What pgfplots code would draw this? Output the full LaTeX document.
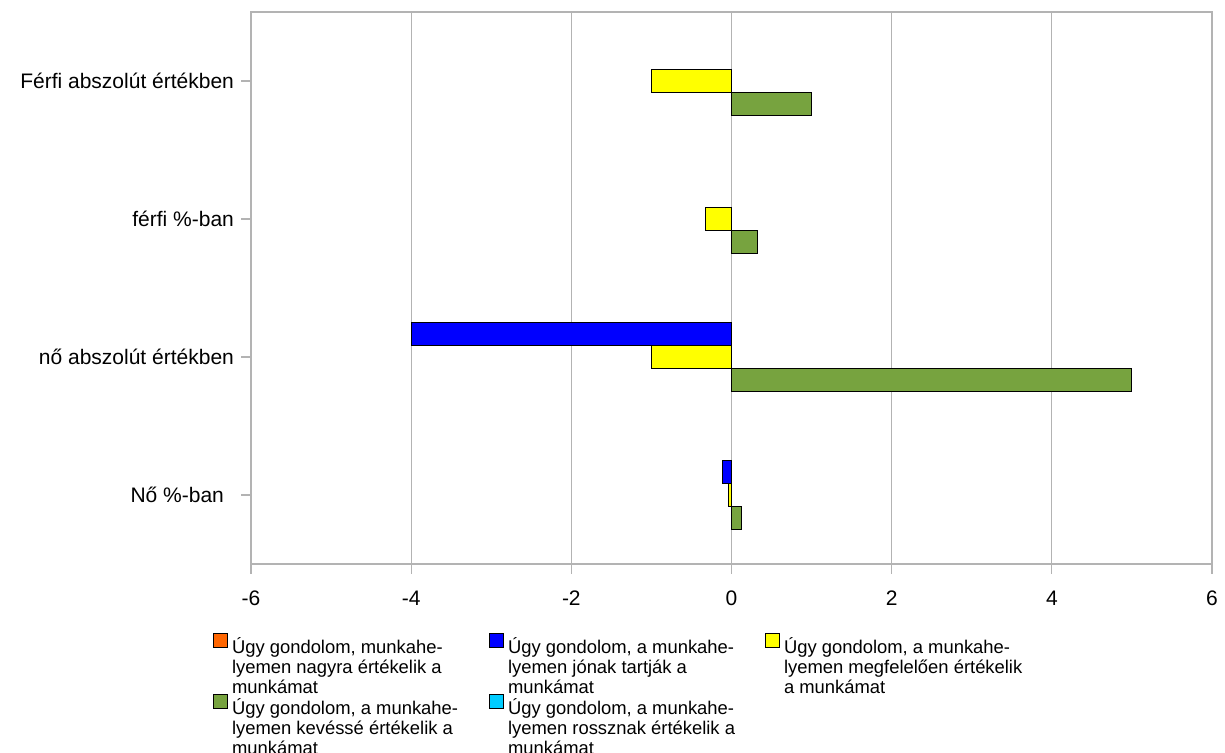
\documentclass[border=0pt]{standalone}
\usepackage{fontspec}
\setmainfont{Liberation Sans}
\usepackage{pgfplots}
\pgfplotsset{compat=1.18}
\definecolor{cOrange}{HTML}{FF6600}
\definecolor{cBlue}{HTML}{0000FF}
\definecolor{cYellow}{HTML}{FFFF00}
\definecolor{cGreen}{HTML}{77A33F}
\definecolor{cCyan}{HTML}{00CCFF}
\definecolor{cGrid}{HTML}{B3B3B3}
\newcommand{\LE}[3]{\makebox[126.5pt][l]{\begin{tabular}[t]{@{}l@{}}#1\\#2\\#3\end{tabular}}}
\begin{document}
\begin{tikzpicture}
\useasboundingbox (0,0) rectangle (612.5pt,376.5pt);
\begin{axis}[
  at={(125.5pt,94.5pt)}, anchor=south west,
  scale only axis, width=480.5pt, height=276pt,
  xmin=-6, xmax=6, ymin=-0.5, ymax=3.5,
  xtick={-6,-4,-2,0,2,4,6},
  ytick={0,1,2,3},
  yticklabels={Nő \%-ban\hspace*{5pt},nő abszolút értékben,férfi \%-ban,Férfi abszolút értékben},
  xmajorgrids, grid style={cGrid, line width=0.6pt},
  axis line style={cGrid, line width=0.6pt},
  tick style={cGrid, line width=0.6pt},
  tick align=outside, major tick length=5pt, tick pos=left,
  /pgf/number format/assume math mode=true,
  tick label style={font=\fontsize{10.5}{12}\selectfont, text=black},
  xticklabel style={yshift=-5pt},
  xbar, bar width=0.1667,
  legend columns=3,
  legend cell align=left,
  legend image code/.code={\draw[#1,draw=black,line width=0.5pt] (0pt,0pt) rectangle (7pt,7pt);},
  legend style={draw=none, fill=none, inner sep=0pt, outer sep=0pt,
    at={(-0.0395,-0.1247)}, anchor=north west,
    font=\fontsize{9.2}{10}\selectfont,
    row sep=16.5pt,
    /tikz/every even column/.append style={column sep=0pt},
  },
]
\addplot[fill=cOrange, draw=none, bar shift=0.3333] coordinates {(0,10)};
\addlegendentry{\LE{Úgy gondolom, munkahe-}{lyemen nagyra értékelik a}{munkámat}}
\addplot[fill=cBlue, draw=black, line width=0.5pt, bar shift=0.1667] coordinates {(-0.11,0) (-4,1)};
\addlegendentry{\LE{Úgy gondolom, a munkahe-}{lyemen jónak tartják a}{munkámat}}
\addplot[fill=cYellow, draw=black, line width=0.5pt, bar shift=0] coordinates {(-0.034,0) (-1,1) (-0.33,2) (-1,3)};
\addlegendentry{\LE{Úgy gondolom, a munkahe-}{lyemen megfelelően értékelik}{a munkámat}}
\addplot[fill=cGreen, draw=black, line width=0.5pt, bar shift=-0.1667] coordinates {(0.13,0) (5,1) (0.33,2) (1,3)};
\addlegendentry{\LE{Úgy gondolom, a munkahe-}{lyemen kevéssé értékelik a}{munkámat}}
\addplot[fill=cCyan, draw=none, bar shift=-0.3333] coordinates {(0,10)};
\addlegendentry{\LE{Úgy gondolom, a munkahe-}{lyemen rossznak értékelik a}{munkámat}}
\end{axis}
\end{tikzpicture}
\end{document}
